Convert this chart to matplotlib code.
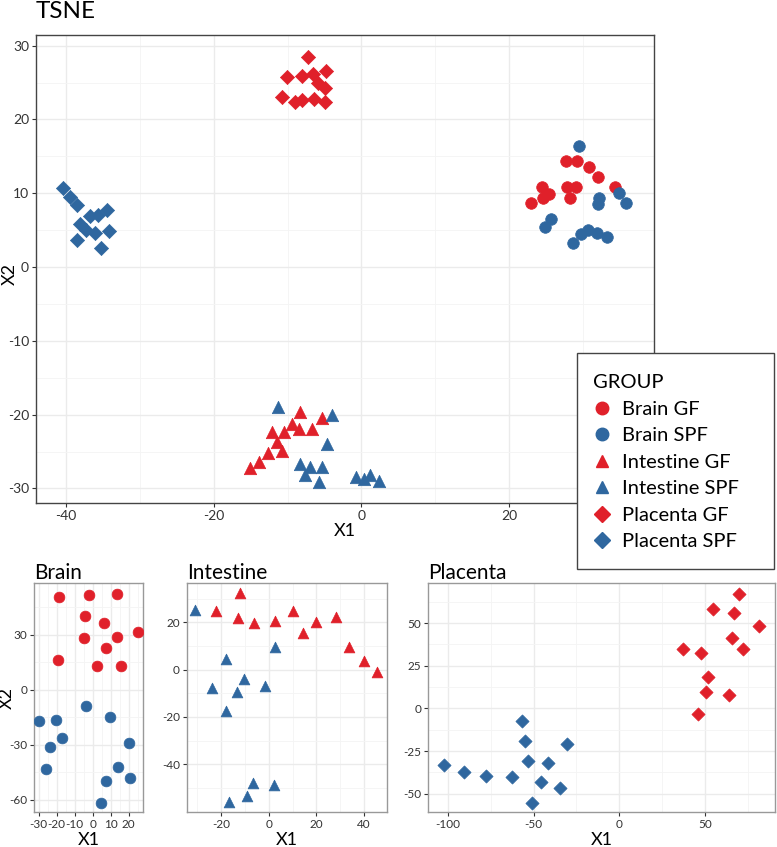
import numpy as np
import matplotlib
matplotlib.use("Agg")
import matplotlib.pyplot as plt
from matplotlib.lines import Line2D
from matplotlib.patches import Rectangle

plt.rcParams['font.family'] = ['Lato', 'DejaVu Sans']
plt.rcParams['axes.unicode_minus'] = False

RED = '#e0202a'
BLUE = '#2f679f'

# ---- main TSNE panel ----
brain_gf_x = [27.7, 29.2, 30.8, 32.0, 24.4, 27.8, 29.0, 34.3, 24.6, 25.4, 22.9, 28.2]
brain_gf_y = [14.4, 14.4, 13.6, 12.2, 10.9, 10.8, 10.9, 10.9, 9.4, 9.9, 8.7, 9.3]
brain_spf_x = [29.4, 34.8, 32.1, 32.0, 35.8, 25.6, 24.9, 29.7, 30.7, 31.9, 33.2, 28.7]
brain_spf_y = [16.4, 10.0, 9.4, 8.6, 8.7, 6.5, 5.4, 4.5, 5.0, 4.6, 4.1, 3.3]
int_gf_x = [-8.3, -5.3, -9.4, -8.4, -6.7, -12.1, -10.5, -11.5, -10.7, -12.7, -13.9, -15.1]
int_gf_y = [-19.6, -20.4, -21.3, -22.0, -21.9, -22.3, -22.3, -23.7, -24.9, -25.2, -26.4, -27.3]
int_spf_x = [-11.3, -4.0, -4.6, -8.3, -6.9, -5.3, -7.7, -5.7, -0.7, 0.4, 1.2, 2.4]
int_spf_y = [-19.0, -20.0, -24.0, -26.7, -27.1, -27.1, -28.2, -29.1, -28.5, -28.7, -28.2, -29.0]
pla_gf_x = [-7.2, -10.1, -8.1, -6.6, -4.8, -5.9, -4.9, -10.8, -9.0, -8.1, -6.4, -5.0]
pla_gf_y = [28.5, 25.7, 25.9, 26.2, 26.6, 25.0, 24.2, 23.1, 22.4, 22.6, 22.8, 22.3]
pla_spf_x = [-40.4, -39.4, -38.5, -38.1, -36.7, -35.6, -34.4, -37.3, -36.1, -34.2, -38.5, -35.2]
pla_spf_y = [10.7, 9.5, 8.4, 5.9, 6.9, 7.0, 7.7, 5.0, 4.6, 4.9, 3.7, 2.6]

# ---- Brain sub-panel ----
b_gf_x = [-18.5, -2.2, 13.3, -4.1, 6.1, 25.4, -5.0, 13.3, 7.2, -19.4, 2.4, 15.6]
b_gf_y = [50.7, 51.8, 52.4, 40.5, 36.7, 31.8, 28.5, 28.9, 23.1, 16.5, 13.3, 13.3]
b_spf_x = [-3.9, 9.4, -29.6, -20.6, -17.0, -23.5, 20.2, -25.9, 13.9, 20.6, 7.2, 4.6]
b_spf_y = [-8.5, -14.5, -17.1, -16.5, -26.2, -31.1, -28.9, -43.1, -42.0, -47.8, -49.8, -61.6]

# ---- Intestine sub-panel ----
i_gf_x = [-12.3, -22.2, -12.8, -6.3, 2.8, 10.2, 14.4, 19.8, 28.2, 33.9, 40.1, 45.7]
i_gf_y = [32.3, 24.8, 21.9, 19.6, 20.6, 24.8, 15.6, 20.1, 22.2, 9.5, 3.6, -1.1]
i_spf_x = [-31.0, -18.0, 2.8, -10.4, -24.0, -13.3, -1.7, -18.0, -6.7, 2.4, -9.0, -16.7]
i_spf_y = [25.4, 4.6, 9.5, -3.9, -7.9, -9.4, -6.9, -17.5, -47.8, -48.7, -53.3, -55.8]

# ---- Placenta sub-panel ----
p_gf_x = [70.1, 54.5, 67.0, 81.6, 65.7, 72.1, 37.4, 47.5, 51.6, 50.7, 64.3, 46.2]
p_gf_y = [67.2, 58.2, 55.7, 48.4, 41.2, 34.6, 34.6, 32.4, 18.4, 9.6, 7.6, -3.5]
p_spf_x = [-57.1, -55.3, -30.6, -53.2, -41.5, -102.5, -91.0, -78.1, -62.5, -45.8, -34.5, -51.2]
p_spf_y = [-7.4, -19.3, -20.9, -30.9, -32.2, -33.2, -37.1, -39.6, -40.2, -43.4, -46.9, -55.3]

groups = ['Brain GF', 'Brain SPF', 'Intestine GF', 'Intestine SPF', 'Placenta GF', 'Placenta SPF']
markers = ['o', 'o', '^', '^', 'D', 'D']
colors = [RED, BLUE, RED, BLUE, RED, BLUE]


def style_ax(ax, xmaj, xmin, ymaj, ymin, border, tick_fs):
    ax.set_xticks(xmaj)
    ax.set_xticks(xmin, minor=True)
    ax.set_yticks(ymaj)
    ax.set_yticks(ymin, minor=True)
    ax.grid(True, which='major', color='#ebebeb', lw=1.0, zorder=0)
    ax.grid(True, which='minor', color='#f4f4f4', lw=0.6, zorder=0)
    ax.set_axisbelow(True)
    for s in ax.spines.values():
        s.set_color(border)
        s.set_linewidth(1.0)
    ax.tick_params(which='major', length=3, color='#333333', labelsize=tick_fs,
                   labelcolor='#333333', pad=2)
    ax.tick_params(which='minor', length=0)


fig = plt.figure(figsize=(7.77, 8.47), dpi=100)

ax = fig.add_axes([0.0463, 0.4061, 0.7954, 0.5526])
main_x = [brain_gf_x, brain_spf_x, int_gf_x, int_spf_x, pla_gf_x, pla_spf_x]
main_y = [brain_gf_y, brain_spf_y, int_gf_y, int_spf_y, pla_gf_y, pla_spf_y]
sizes = {'o': 70, '^': 80, 'D': 52}
for xs, ys, m, c in zip(main_x, main_y, markers, colors):
    ax.scatter(xs, ys, marker=m, s=sizes[m], color=c, edgecolors=c, linewidths=0.5, zorder=3)
ax.set_xlim(-44.06, 39.6)
ax.set_ylim(-31.98, 31.45)
style_ax(ax, [-40, -20, 0, 20], [-30, -10, 10, 30],
         [-30, -20, -10, 0, 10, 20, 30], [-25, -15, -5, 5, 15, 25], '#444444', 10)
ax.set_xlabel('X1', fontsize=13, labelpad=1)
ax.set_ylabel('X2', fontsize=13)
ax.yaxis.set_label_coords(-0.029, 0.49)
fig.text(0.046, 1 - 18 / 847, 'TSNE', fontsize=17.5, ha='left', va='baseline')

# legend: white box drawn separately, legend without frame on top
W, H = 777, 847
box = Rectangle((577 / W, 1 - 569 / H), 197 / W, 216 / H, transform=fig.transFigure,
                facecolor='white', edgecolor='#444444', lw=1.0, zorder=9)
fig.add_artist(box)
handles = [Line2D([], [], marker=m, ls='', color=c, markersize=9 if m != 'D' else 8)
           for m, c in zip(markers, colors)]
leg = fig.legend(handles, groups, title='GROUP', loc='upper left',
                 bbox_to_anchor=(577 / W, 1 - 358 / H), frameon=False,
                 fontsize=14.5, title_fontsize=14.5, handletextpad=0.55, labelspacing=0.47,
                 borderpad=0.8, handlelength=0.9, borderaxespad=0)
leg._legend_box.align = 'left'
leg.set_zorder(10)

# bottom panels
bot = 0.0410
h = 0.2704
sub_sizes = {'o': 60, '^': 60, 'D': 45}

axb = fig.add_axes([0.0441, bot, 0.1403, h])
for xs, ys, c in [(b_gf_x, b_gf_y, RED), (b_spf_x, b_spf_y, BLUE)]:
    axb.scatter(xs, ys, marker='o', s=sub_sizes['o'], color=c, edgecolors=c, linewidths=0.5, zorder=3)
axb.set_xlim(-32.4, 28.1)
axb.set_ylim(-66.7, 58.2)
style_ax(axb, [-30, -20, -10, 0, 10, 20], [-25, -15, -5, 5, 15, 25],
         [-60, -30, 0, 30], [-45, -15, 15, 45], '#999999', 8.5)
axb.set_xlabel('X1', fontsize=13, labelpad=1)
axb.set_ylabel('X2', fontsize=13)
axb.yaxis.set_label_coords(-0.18, 0.5)
axb.set_title('Brain', fontsize=15, loc='left', pad=3)

axi = fig.add_axes([0.2403, bot, 0.2574, h])
for xs, ys, c in [(i_gf_x, i_gf_y, RED), (i_spf_x, i_spf_y, BLUE)]:
    axi.scatter(xs, ys, marker='^', s=sub_sizes['^'], color=c, edgecolors=c, linewidths=0.5, zorder=3)
axi.set_xlim(-34.5, 49.6)
axi.set_ylim(-60.3, 36.5)
style_ax(axi, [-20, 0, 20, 40], [-30, -10, 10, 30],
         [-40, -20, 0, 20], [-50, -30, -10, 10, 30], '#999999', 8.5)
axi.set_xlabel('X1', fontsize=13, labelpad=1)
axi.set_title('Intestine', fontsize=15, loc='left', pad=3)

axp = fig.add_axes([0.5512, bot, 0.4462, h])
for xs, ys, c in [(p_gf_x, p_gf_y, RED), (p_spf_x, p_spf_y, BLUE)]:
    axp.scatter(xs, ys, marker='D', s=sub_sizes['D'], color=c, edgecolors=c, linewidths=0.5, zorder=3)
axp.set_xlim(-111.6, 91.0)
axp.set_ylim(-60.9, 73.4)
style_ax(axp, [-100, -50, 0, 50], [-75, -25, 25, 75],
         [-50, -25, 0, 25, 50], [-37.5, -12.5, 12.5, 37.5, 62.5], '#999999', 8.5)
axp.set_xlabel('X1', fontsize=13, labelpad=1)
axp.set_title('Placenta', fontsize=15, loc='left', pad=3)

fig.savefig('out.png', dpi=100)
